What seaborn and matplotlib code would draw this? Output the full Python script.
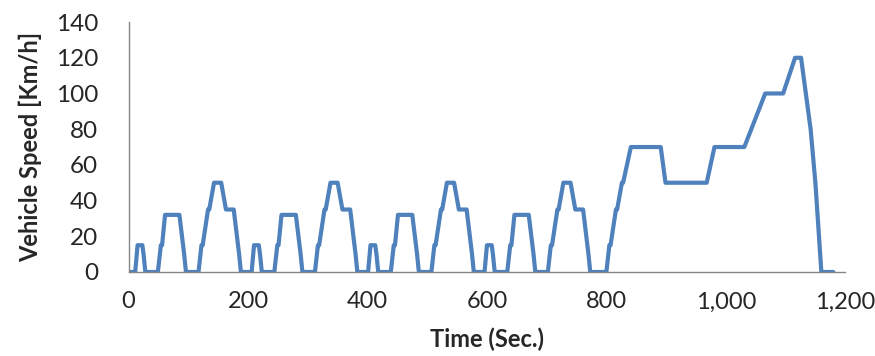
import numpy as np
import pandas as pd
import matplotlib
matplotlib.use("Agg")
import matplotlib.pyplot as plt
import seaborn as sns

# NEDC key points: 4 x urban (ECE-15) + extra-urban (EUDC)
time_s = [
    0, 11, 15, 23, 25, 28, 49, 54, 56, 61, 85, 93, 96, 117, 122, 124, 133, 135, 143, 155, 163, 176, 185, 188,
    195, 206, 210, 218, 220, 223, 244, 249, 251, 256, 280, 288, 291, 312, 317, 319, 328, 330, 338, 350, 358, 371, 380, 383,
    390, 401, 405, 413, 415, 418, 439, 444, 446, 451, 475, 483, 486, 507, 512, 514, 523, 525, 533, 545, 553, 566, 575, 578,
    585, 596, 600, 608, 610, 613, 634, 639, 641, 646, 670, 678, 681, 702, 707, 709, 718, 720, 728, 740, 748, 761, 770, 773,
    780, 800, 805, 807, 816, 818, 826, 828, 841, 891, 899, 968, 981, 1031, 1066, 1096, 1116, 1126, 1142, 1150, 1160, 1180,
]
speed_kmh = [
    0, 0, 15, 15, 10, 0, 0, 15, 15, 32, 32, 10, 0, 0, 15, 15, 35, 35, 50, 50, 35, 35, 10, 0,
    0, 0, 15, 15, 10, 0, 0, 15, 15, 32, 32, 10, 0, 0, 15, 15, 35, 35, 50, 50, 35, 35, 10, 0,
    0, 0, 15, 15, 10, 0, 0, 15, 15, 32, 32, 10, 0, 0, 15, 15, 35, 35, 50, 50, 35, 35, 10, 0,
    0, 0, 15, 15, 10, 0, 0, 15, 15, 32, 32, 10, 0, 0, 15, 15, 35, 35, 50, 50, 35, 35, 10, 0,
    0, 0, 15, 15, 35, 35, 50, 50, 70, 70, 50, 50, 70, 70, 100, 100, 120, 120, 80, 50, 0, 0,
]

x_ticks = [0, 200, 400, 600, 800, 1000, 1200]
x_ticklabels = ["0", "200", "400", "600", "800", "1,000", "1,200"]
y_ticks = [0, 20, 40, 60, 80, 100, 120, 140]

df = pd.DataFrame({"time": time_s, "speed": speed_kmh})

sns.set_style("white")
plt.rcParams["font.family"] = ["Lato", "DejaVu Sans"]

fig = plt.figure(figsize=(8.75, 3.56), dpi=100)
ax = fig.add_axes([0.147, 0.236, 0.819, 0.702])

sns.lineplot(data=df, x="time", y="speed", ax=ax, color="#4F81BD",
             linewidth=3.0, solid_joinstyle="round")

ax.set_xlim(0, 1200)
ax.set_ylim(0, 140)
ax.set_xticks(x_ticks)
ax.set_xticklabels(x_ticklabels)
ax.set_yticks(y_ticks)

for side in ["top", "right"]:
    ax.spines[side].set_visible(False)
for side in ["left", "bottom"]:
    ax.spines[side].set_color("#868686")
    ax.spines[side].set_linewidth(1.0)

ax.tick_params(axis="x", direction="out", length=6, width=1, color="#868686",
               labelsize=17, pad=8)
ax.tick_params(axis="y", length=0, labelsize=17.5, pad=22)

ax.set_xlabel("Time (Sec.)", fontsize=17, fontweight="bold", labelpad=11)
ax.set_ylabel("Vehicle Speed [Km/h]", fontsize=17, fontweight="bold", labelpad=10)

fig.savefig("out.png", dpi=100)
